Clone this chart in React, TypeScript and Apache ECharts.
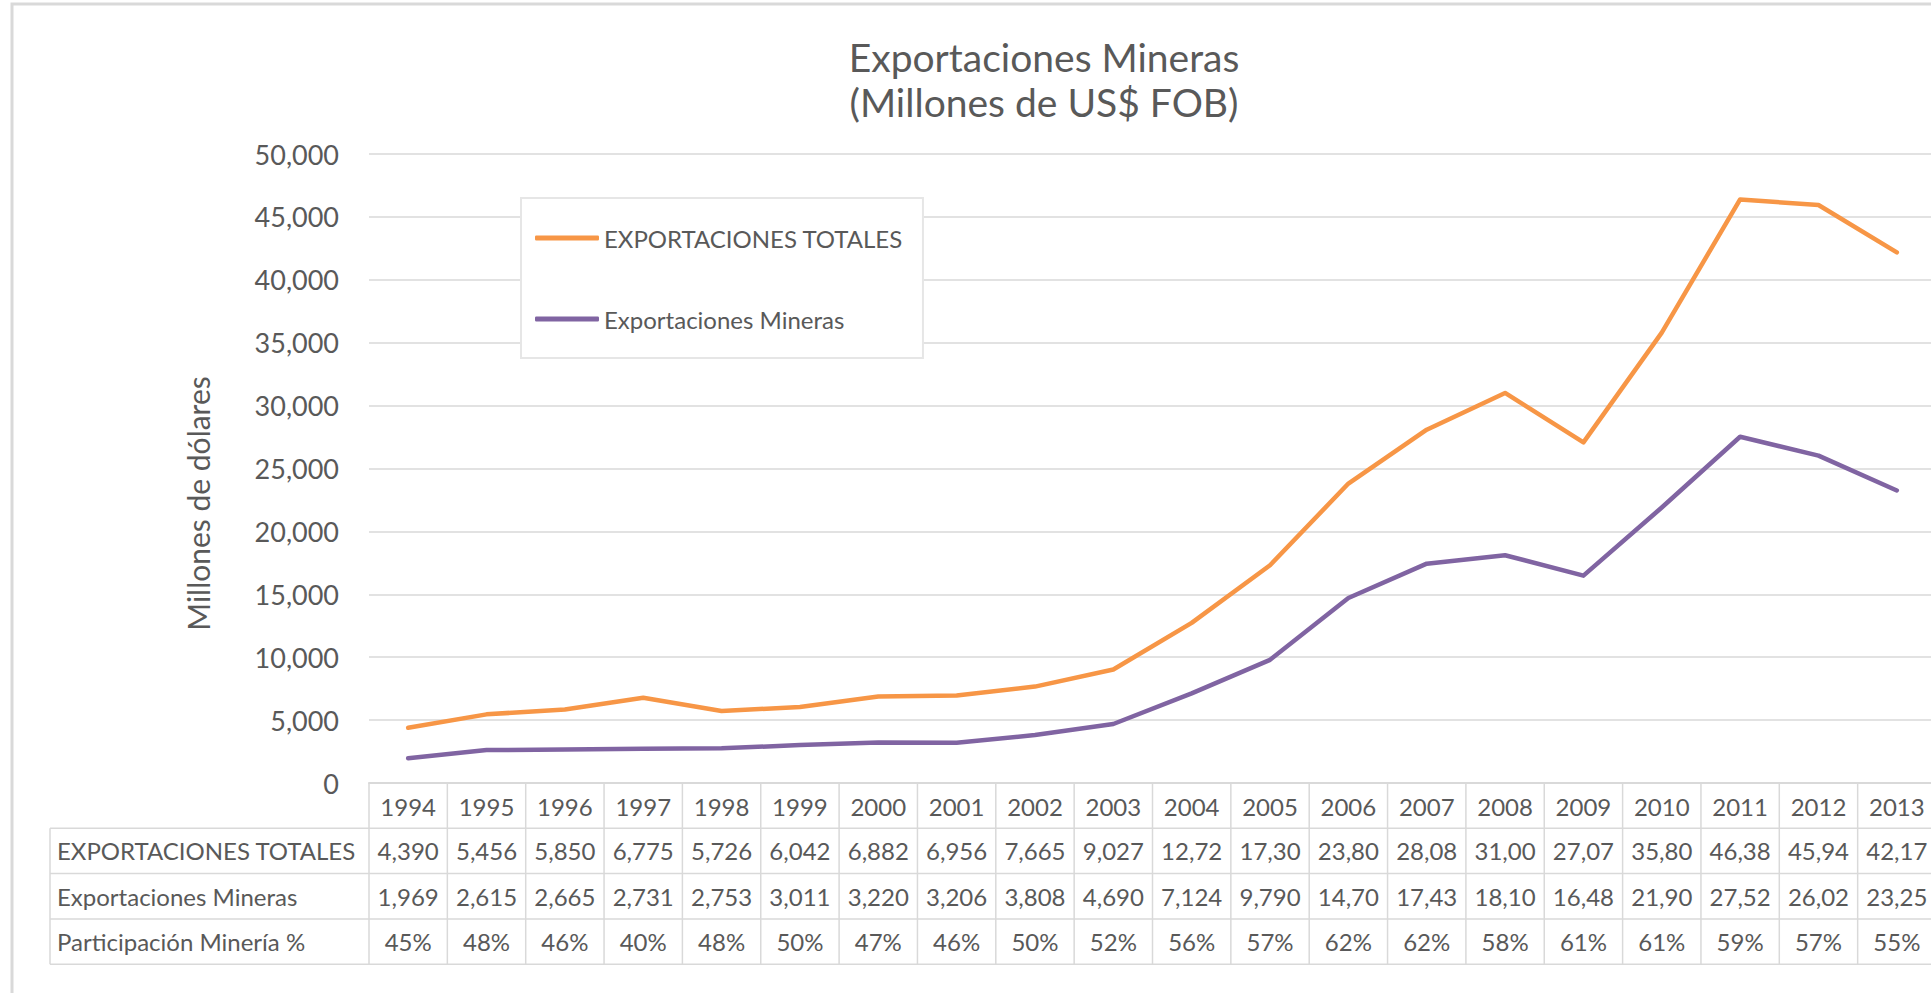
import React, { useEffect, useRef } from "react";
import * as echarts from "echarts";

const years = ["1994", "1995", "1996", "1997", "1998", "1999", "2000", "2001", "2002", "2003", "2004", "2005", "2006", "2007", "2008", "2009", "2010", "2011", "2012", "2013"];
const exportacionesTotales = [4390, 5456, 5850, 6775, 5726, 6042, 6882, 6956, 7665, 9027, 12725, 17305, 23805, 28085, 31005, 27075, 35805, 46385, 45945, 42175];
const exportacionesMineras = [1969, 2615, 2665, 2731, 2753, 3011, 3220, 3206, 3808, 4690, 7124, 9790, 14705, 17435, 18105, 16485, 21905, 27525, 26025, 23255];
const participacionMineria = ["45%", "48%", "46%", "40%", "48%", "50%", "47%", "46%", "50%", "52%", "56%", "57%", "62%", "62%", "58%", "61%", "61%", "59%", "57%", "55%"];
const seriesNames = ["EXPORTACIONES TOTALES", "Exportaciones Mineras"];
const tableRowLabels = ["EXPORTACIONES TOTALES", "Exportaciones Mineras", "Participación Minería %"];
const yMin = 0;
const yMax = 50000;
const yInterval = 5000;

const FONT = "Lato, 'Noto Sans', sans-serif";
const GREY = "#595959";
const LINE = "#d9d9d9";
const ORANGE = "#F79646";
const PURPLE = "#8064A2";

const fmt = (v: number) => v.toLocaleString("en-US");
const cell = (v: number) => fmt(v).slice(0, 5);

export default function App() {
  const ref = useRef<HTMLDivElement>(null);
  useEffect(() => {
    const chart = echarts.init(ref.current!, null, { renderer: "svg" });
    chart.setOption({
      animation: false,
      backgroundColor: "#ffffff",
      title: {
        text: "Exportaciones Mineras\n(Millones de US$ FOB)",
        left: 1039,
        top: 29,
        textAlign: "center",
        textStyle: { fontFamily: FONT, fontSize: 39, lineHeight: 45, fontWeight: "normal", color: GREY },
      },
      legend: {
        orient: "vertical",
        left: 521,
        top: 198,
        icon: "roundRect",
        itemWidth: 64,
        itemHeight: 5,
        itemGap: 57,
        padding: [28, 20, 27, 14],
        borderColor: "#e6e6e6",
        borderWidth: 2,
        backgroundColor: "#ffffff",
        textStyle: { fontFamily: FONT, fontSize: 24, color: GREY },
        data: seriesNames,
      },
      grid: { left: 369, top: 154, right: 24, bottom: 210, containLabel: false },
      xAxis: {
        type: "category",
        data: years,
        boundaryGap: true,
        axisLine: { show: true, lineStyle: { color: LINE, width: 2 } },
        axisTick: { show: false },
        axisLabel: {
          interval: 0,
          margin: 23,
          verticalAlign: "middle",
          fontFamily: FONT,
          fontSize: 24,
          color: GREY,
        },
      },
      yAxis: {
        type: "value",
        min: yMin,
        max: yMax,
        interval: yInterval,
        name: "Millones de dólares",
        nameLocation: "middle",
        nameGap: 156,
        nameRotate: 90,
        nameTextStyle: { fontFamily: FONT, fontSize: 30, color: GREY, padding: [0, 70, 0, 0] },
        axisLine: { show: false },
        axisTick: { show: false },
        axisLabel: { fontFamily: FONT, fontSize: 27, color: GREY, margin: 30, formatter: (v: number) => fmt(v) },
        splitLine: { lineStyle: { color: LINE, width: 1.5 } },
      },
      series: [
        {
          name: seriesNames[0],
          type: "line",
          data: exportacionesTotales,
          symbol: "none",
          itemStyle: { color: ORANGE },
          lineStyle: { color: ORANGE, width: 4.5, cap: "round", join: "round" },
          z: 3,
        },
        {
          name: seriesNames[1],
          type: "line",
          data: exportacionesMineras,
          symbol: "none",
          itemStyle: { color: PURPLE },
          lineStyle: { color: PURPLE, width: 4.5, cap: "round", join: "round" },
          z: 3,
        },
      ],
    });

    const c0 = chart.convertToPixel({ xAxisIndex: 0 }, 0) as number;
    const c1 = chart.convertToPixel({ xAxisIndex: 0 }, 1) as number;
    const colW = c1 - c0;
    const axisY = chart.convertToPixel({ yAxisIndex: 0 }, 0) as number;
    const rowH = 45.3;
    const tableLeft = 50;
    const firstBoundary = c0 - colW / 2;
    const lastBoundary = firstBoundary + colW * years.length;
    const graphics: any[] = [];

    graphics.push({
      type: "rect",
      silent: true,
      shape: { x: 12, y: 4, width: 3000, height: 3000 },
      style: { fill: "none", stroke: LINE, lineWidth: 3 },
      z: 0,
    });

    for (let k = 1; k <= 4; k++) {
      const y = axisY + rowH * k;
      graphics.push({ type: "line", silent: true, shape: { x1: tableLeft, y1: y, x2: lastBoundary, y2: y }, style: { stroke: LINE, lineWidth: 1.5 } });
    }
    graphics.push({ type: "line", silent: true, shape: { x1: tableLeft, y1: axisY + rowH, x2: tableLeft, y2: axisY + rowH * 4 }, style: { stroke: LINE, lineWidth: 1.5 } });
    for (let j = 0; j <= years.length; j++) {
      const x = firstBoundary + colW * j;
      graphics.push({ type: "line", silent: true, shape: { x1: x, y1: axisY, x2: x, y2: axisY + rowH * 4 }, style: { stroke: LINE, lineWidth: 1.5 } });
    }

    const rows: string[][] = [
      exportacionesTotales.map(cell),
      exportacionesMineras.map(cell),
      participacionMineria,
    ];
    rows.forEach((row, r) => {
      const yc = axisY + rowH * (r + 1) + rowH / 2;
      graphics.push({
        type: "text",
        silent: true,
        x: tableLeft + 7,
        y: yc,
        style: { text: tableRowLabels[r], fontFamily: FONT, fontSize: 24, fill: GREY, align: "left", verticalAlign: "middle", textAlign: "left", textVerticalAlign: "middle" },
      });
      row.forEach((txt, i) => {
        const xc = chart.convertToPixel({ xAxisIndex: 0 }, i) as number;
        graphics.push({
          type: "text",
          silent: true,
          x: xc,
          y: yc,
          style: { text: txt, fontFamily: FONT, fontSize: 24, fill: GREY, align: "center", verticalAlign: "middle", textAlign: "center", textVerticalAlign: "middle" },
        });
      });
    });

    chart.setOption({ graphic: graphics });
    return () => chart.dispose();
  }, []);
  return (
    <div style={{ position: "fixed", left: 0, top: 0, width: 1931, height: 993, overflow: "hidden", background: "#ffffff" }}>
      <div ref={ref} style={{ width: 1960, height: 993 }} />
    </div>
  );
}
